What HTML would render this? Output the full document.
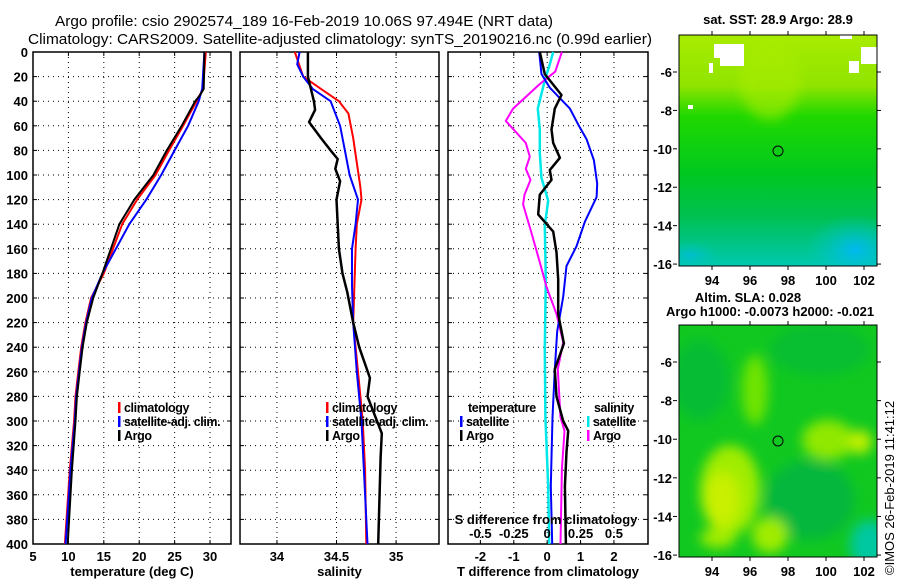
<!DOCTYPE html>
<html><head><meta charset="utf-8"><style>
body{margin:0;background:#fff;}
svg{display:block;font-family:"Liberation Sans",sans-serif;}
.t{font-size:13px;font-weight:bold;fill:#000;}
.lg{font-size:12.5px;letter-spacing:-0.4px;}
.ttl{font-size:15px;fill:#000;}
.g{stroke:#000;stroke-width:1;stroke-dasharray:1 4;}
</style></head><body>
<svg id="chart" width="900" height="580" viewBox="0 0 900 580">
<defs>
<linearGradient id="sst" x1="0" y1="0" x2="0" y2="1"><stop offset="0" stop-color="#a8ec00"/><stop offset="0.22" stop-color="#90e400"/><stop offset="0.35" stop-color="#20d800"/><stop offset="0.6" stop-color="#00c820"/><stop offset="0.78" stop-color="#00c050"/><stop offset="1" stop-color="#00c8b0"/></linearGradient>
<radialGradient id="cyan" cx="50%" cy="50%" r="50%"><stop offset="0" stop-color="#00b8f0"/><stop offset="1" stop-color="#00c8c0" stop-opacity="0"/></radialGradient>
<filter id="bl"><feGaussianBlur stdDeviation="6"/></filter>
<clipPath id="c1"><rect x="679" y="35" width="198" height="231"/></clipPath>
<clipPath id="c2"><rect x="679" y="325" width="198" height="232"/></clipPath>
</defs>
<text class="ttl" x="55" y="26" textLength="498" lengthAdjust="spacingAndGlyphs">Argo profile: csio 2902574_189 16-Feb-2019 10.06S 97.494E (NRT data)</text>
<text class="ttl" x="28" y="44" textLength="624" lengthAdjust="spacingAndGlyphs">Climatology: CARS2009. Satellite-adjusted climatology: synTS_20190216.nc (0.99d earlier)</text>

<g>
<text class="t" x="778" y="24" text-anchor="middle">sat. SST: 28.9 Argo: 28.9</text>
<g clip-path="url(#c1)">
<rect x="679" y="35" width="198" height="231" fill="url(#sst)"/>
<ellipse cx="855" cy="250" rx="50" ry="35" fill="url(#cyan)"/>
<ellipse cx="690" cy="255" rx="30" ry="15" fill="url(#cyan)" opacity="0.6"/>
<ellipse cx="770" cy="80" rx="30" ry="40" fill="#a8ec00" opacity="0.6" filter="url(#bl)"/>
<rect x="714" y="44" width="30" height="14" fill="#fff"/><rect x="720" y="57" width="24" height="9" fill="#fff"/><rect x="709" y="63" width="4" height="10" fill="#fff"/>
<rect x="861" y="47" width="16" height="17" fill="#fff"/><rect x="849" y="61" width="10" height="12" fill="#fff"/><rect x="688" y="105" width="5" height="4" fill="#fff"/>
<rect x="840" y="35" width="12" height="4" fill="#fff"/>
</g>
<rect x="679" y="35" width="198" height="231" fill="none" stroke="#000"/>
<circle cx="778" cy="151" r="5" fill="none" stroke="#000"/>
</g>
<g>
<text class="t" x="748" y="302" text-anchor="middle">Altim. SLA: 0.028</text>
<text class="t" x="770" y="316" text-anchor="middle">Argo h1000: -0.0073 h2000: -0.021</text>
<g clip-path="url(#c2)">
<rect x="679" y="325" width="198" height="232" fill="#10c820"/>
<g filter="url(#bl)">
<ellipse cx="700" cy="380" rx="30" ry="40" fill="#00b440" opacity="0.6"/>
<ellipse cx="820" cy="350" rx="50" ry="25" fill="#00b440" opacity="0.5"/>
<ellipse cx="810" cy="500" rx="45" ry="40" fill="#00b048" opacity="0.7"/>
<ellipse cx="870" cy="545" rx="20" ry="25" fill="#00c8a0"/>
<ellipse cx="755" cy="390" rx="13" ry="35" fill="#70e400"/>
<ellipse cx="828" cy="440" rx="26" ry="20" fill="#90e800"/>
<ellipse cx="860" cy="442" rx="12" ry="12" fill="#c0f000"/>
<ellipse cx="730" cy="490" rx="30" ry="45" fill="#a0ec00"/>
<ellipse cx="722" cy="500" rx="18" ry="28" fill="#c8f000"/>
<ellipse cx="770" cy="535" rx="18" ry="18" fill="#a0ec00"/>
<ellipse cx="718" cy="538" rx="18" ry="10" fill="#a0ec00"/>
</g>
</g>
<rect x="679" y="325" width="198" height="232" fill="none" stroke="#000"/>
<circle cx="778" cy="441" r="5" fill="none" stroke="#000"/>
<text class="t" x="0" y="0" transform="translate(894,575) rotate(-90)" style="font-weight:normal;font-size:13px">©IMOS 26-Feb-2019 11:41:12</text>
</g>
<g id="maplabels"></g>
<g id="plots"></g>
</svg>
<script>
// ---- data ----
const depthTicks=[0,20,40,60,80,100,120,140,160,180,200,220,240,260,280,300,320,340,360,380,400];
const tTicks=[5,10,15,20,25,30];
const sTicks=[34,34.5,35];
const dTicks=[-2,-1,0,1,2];
const sdTicks=[-0.5,-0.25,0,0.25,0.5];
const sdTickLabels=["-0.5","-0.25","0","0.25","0.5"];
const lonTicks=[94,96,98,100,102];
const latTicks=[-6,-8,-10,-12,-14,-16];

const tArgoD=[0,30,35,40,60,80,100,120,140,160,180,200,220,240,260,280,300,340,400];
const tArgo=[29.2,29.1,28.6,27.9,26.0,23.9,22.0,19.3,17.2,16.0,14.8,13.5,12.6,12.0,11.6,11.2,11.0,10.5,9.9];
const tClimD=[0,30,40,60,80,100,120,140,160,180,200,220,240,260,280,300,340,400];
const tClim=[29.4,29.0,28.1,26.2,24.2,22.3,19.7,17.6,16.3,15.0,13.2,12.4,11.8,11.4,11.0,10.8,10.2,9.5];
const tSat=[29.2,28.9,28.4,26.9,25.0,23.1,21.0,18.6,16.7,14.8,13.3,12.5,11.9,11.5,11.1,10.9,10.3,9.6];

const sArgoD=[0,20,24,40,47,57,70,80,87,95,105,120,140,160,180,195,220,240,265,280,300,310,330,400];
const sArgo=[34.26,34.26,34.27,34.31,34.32,34.27,34.37,34.45,34.51,34.49,34.53,34.50,34.51,34.52,34.55,34.59,34.64,34.69,34.78,34.76,34.84,34.88,34.87,34.85];
const sClimD=[0,20,30,40,50,70,90,110,120,140,160,190,220,240,280,300,340,400];
const sClim=[34.15,34.22,34.37,34.52,34.60,34.64,34.67,34.70,34.71,34.67,34.66,34.65,34.64,34.66,34.70,34.72,34.74,34.75];
const sSatD=[0,10,20,30,40,60,80,100,120,140,160,190,220,260,300,340,400];
const sSat=[34.19,34.17,34.22,34.30,34.45,34.53,34.57,34.61,34.68,34.66,34.63,34.63,34.64,34.67,34.71,34.73,34.76];

const dtArgoD=[0,18,35,46,63,74,86,96,104,116,132,146,163,185,213,237,258,280,300,308,325,353,400];
const dtArgo=[-0.22,-0.07,0.43,0.23,0.13,0.18,0.38,0.08,0.13,-0.22,-0.27,0.18,0.28,0.33,0.33,0.50,0.23,0.28,0.48,0.63,0.58,0.53,0.56];
const dtSatD=[0,18,29,46,60,71,88,107,118,138,158,174,199,227,258,297,353,400];
const dtSat=[-0.24,-0.17,0.08,0.68,0.95,1.18,1.40,1.50,1.48,1.13,0.88,0.58,0.48,0.30,0.23,0.16,0.11,0.15];
const dsArgoD=[0,16,26,46,56,74,85,95,104,116,124,146,171,191,213,236,258,297,308,339,400];
const dsArgo=[0.11,0.06,-0.055,-0.255,-0.31,-0.16,-0.13,-0.16,-0.125,-0.17,-0.18,-0.12,-0.055,-0.005,0.07,0.12,0.08,0.10,0.13,0.11,0.10];
const dsSatD=[0,10,23,46,63,82,102,121,141,185,241,297,353,400];
const dsSat=[0.045,0.02,-0.018,-0.07,-0.055,-0.055,-0.043,0.008,-0.018,-0.01,-0.018,-0.013,0.008,0.015];

// ---- geometry ----
const Y0=52,Y1=544;
const yD=d=>Y0+(d-0)*(Y1-Y0)/400;
const P1={x0:33,x1:231,v0:5,v1:32.96};
const P2={x0:240,x1:439,v0:33.69,v1:35.36};
const P3={x0:448,x1:648,v0:-2.97,v1:3.02};
const sx=(P,v)=>P.x0+(v-P.v0)*(P.x1-P.x0)/(P.v1-P.v0);
const NS="http://www.w3.org/2000/svg";
const plots=document.getElementById('plots');
function mk(tag,attrs,parent){const e=document.createElementNS(NS,tag);for(const k in attrs)e.setAttribute(k,attrs[k]);(parent||plots).appendChild(e);return e;}
function txt(x,y,s,anchor,parent){const e=mk('text',{x:x,y:y,class:'t','text-anchor':anchor||'middle'},parent);e.textContent=s;return e;}

function panel(P,name,ticks,labels,title){
  const g=mk('g',{});
  
  
  depthTicks.forEach(d=>{if(d>0&&d<400){const l=mk('line',{x1:P.x0,x2:P.x1,y1:yD(d),y2:yD(d),class:'g'},g);
    
    }});
  ticks.forEach((v,i)=>{const x=sx(P,v);
    if(x>P.x0+2){const l=mk('line',{x1:x,x2:x,y1:Y0,y2:Y1,class:'g'},g);
      
      }
    mk('line',{x1:x,x2:x,y1:Y0,y2:Y0+4,stroke:'#000'},g);mk('line',{x1:x,x2:x,y1:Y1,y2:Y1-4,stroke:'#000'},g);
    const t=txt(x,561,labels[i],'middle',g);
    
    });
  depthTicks.forEach(d=>{mk('line',{x1:P.x0,x2:P.x0+4,y1:yD(d),y2:yD(d),stroke:'#000'},g);mk('line',{x1:P.x1,x2:P.x1-4,y1:yD(d),y2:yD(d),stroke:'#000'},g);});
  const r=mk('rect',{x:P.x0,y:Y0,width:P.x1-P.x0,height:Y1-Y0,fill:'none',stroke:'#000','stroke-width':1.5},g);
  
  
  const tt=txt((P.x0+P.x1)/2,576,title,'middle',g);
  
  
  return g;
}
function series(P,D,V,col,w,name,mult){
  const pts=D.map((d,i)=>sx(P,V[i]*(mult||1)).toFixed(1)+','+yD(d).toFixed(1)).join(' ');
  const l=mk('polyline',{points:pts,fill:'none',stroke:col,'stroke-width':w,'stroke-linejoin':'round'});
  
  
}
function legend(x,y,items){
  items.forEach((it,i)=>{mk('rect',{x:x,y:y+i*14-10,width:2.5,height:11,fill:it[1]});
    const t=txt(x+6,y+i*14,it[0],'start');
    t.setAttribute('class','t lg');
    
    });
}
depthTicks.forEach(d=>{const t=txt(28,yD(d)+5,String(d),'end');
  
  });

panel(P1,'temperature-panel',tTicks,tTicks.map(String),'temperature (deg C)');
panel(P2,'salinity-panel',sTicks,sTicks.map(String),'salinity');
panel(P3,'difference-panel',dTicks,dTicks.map(String),'T difference from climatology');

series(P1,tClimD,tClim,'#f00',2,'temp-climatology-line');
series(P1,tClimD,tSat,'#00f',2,'temp-satellite-line');
series(P1,tArgoD,tArgo,'#000',2,'temp-argo-line');
series(P2,sClimD,sClim,'#f00',2,'sal-climatology-line');
series(P2,sSatD,sSat,'#00f',2,'sal-satellite-line');
series(P2,sArgoD,sArgo,'#000',2.5,'sal-argo-line');
series(P3,dsSatD,dsSat,'#00e8e8',2.5,'sdiff-satellite-line',4);
series(P3,dsArgoD,dsArgo,'#f0f',2,'sdiff-argo-line',4);
series(P3,dtSatD,dtSat,'#00f',2,'tdiff-satellite-line');
series(P3,dtArgoD,dtArgo,'#000',2.5,'tdiff-argo-line');

legend(118,412,[['climatology','#f00'],['satellite-adj. clim.','#00f'],['Argo','#000']]);
legend(326,412,[['climatology','#f00'],['satellite-adj. clim.','#00f'],['Argo','#000']]);
let h=txt(468,412,'temperature','start');h.setAttribute('class','t lg');
h=txt(594,412,'salinity','start');h.setAttribute('class','t lg');
legend(460,426,[['satellite','#00f'],['Argo','#000']]);
legend(587,426,[['satellite','#00e8e8'],['Argo','#f0f']]);
h=txt(546,524,'S difference from climatology','middle');
sdTicks.forEach((v,i)=>{const t=txt(sx(P3,v*4),538,sdTickLabels[i],'middle');
  
  });

const ml=document.getElementById('maplabels');
[[35,266],[325,557]].forEach(([top,bot])=>{
  const lonX=v=>712+(v-94)*19;
  const latY=v=>top+(72-35)+(-6-v)*(bot-top-37)/10.1;
  lonTicks.forEach(v=>{mk('line',{x1:lonX(v),x2:lonX(v),y1:top,y2:top-4,stroke:'#000'},ml);mk('line',{x1:lonX(v),x2:lonX(v),y1:bot,y2:bot+4,stroke:'#000'},ml);
    const t=txt(lonX(v),bot+19,String(v),'middle',ml);
    
    });
  latTicks.forEach(v=>{const y=latY(v);mk('line',{x1:677,x2:673,y1:y,y2:y,stroke:'#000'},ml);mk('line',{x1:877,x2:881,y1:y,y2:y,stroke:'#000'},ml);
    const t=txt(672,y+5,String(v),'end',ml);
    
    });
});
</script>
</body></html>
